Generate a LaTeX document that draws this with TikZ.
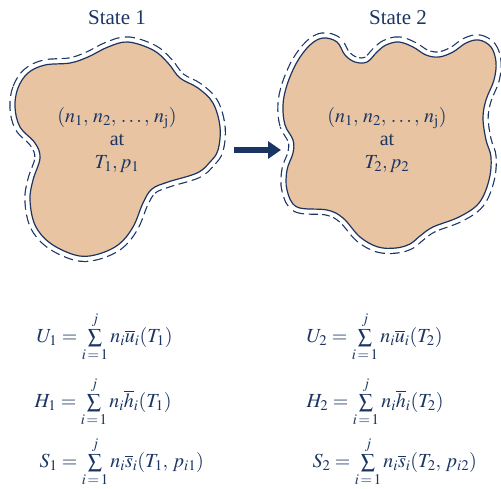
\documentclass[tikz,border=0pt]{standalone}
\usepackage{mathptmx}
\usepackage[no-math]{fontspec}
\setmainfont{Liberation Serif}
\usetikzlibrary{arrows.meta}
\definecolor{navy}{HTML}{1B3563}
\definecolor{blobfill}{HTML}{E8C4A2}
\tikzset{
  dashring/.style={line width=11.4pt, dash pattern=on 9pt off 4.5pt, navy},
  whitering/.style={line width=9pt, white},
  blobbody/.style={fill=blobfill, draw=navy, line width=1.2pt},
  ttl/.style={text=navy, font=\fontsize{21}{24}\selectfont, align=center},
  lbl/.style={text=navy, font=\fontsize{20}{23}\selectfont, align=center},
  eq/.style={text=navy, font=\fontsize{20}{23}\selectfont, anchor=west},
}
\def\blobA{(15,107) (18,88) (28,73) (45,65) (70,63) (88,57) (108,47) (128,42) (153,50) (168,63) (180,78) (198,88) (213,103) (220,127) (218,150) (210,162) (197,173) (168,182) (152,189) (143,203) (133,227) (118,245) (95,255) (75,255) (50,243) (35,225) (30,200) (33,180) (40,158) (35,143) (20,127)}
\def\blobB{(293,140) (285,125) (283,105) (287,85) (297,62) (310,45) (323,38) (337,42) (345,55) (355,62) (367,62) (377,52) (386,45) (399,42) (413,47) (426,55) (439,57) (453,52) (466,43) (479,40) (491,47) (496,62) (494,80) (486,100) (483,118) (486,140) (491,157) (489,180) (479,203) (459,217) (433,227) (420,236) (410,244) (396,248) (378,247) (360,237) (343,218) (327,210) (297,207) (287,190) (287,170) (293,153)}
\begin{document}
\begin{tikzpicture}[x=1pt,y=-1pt]
\useasboundingbox (0,0) rectangle (501,488);
% blob 1
\draw[dashring] plot[smooth cycle, tension=0.6] coordinates {\blobA};
\draw[whitering] plot[smooth cycle, tension=0.6] coordinates {\blobA};
\draw[blobbody] plot[smooth cycle, tension=0.6] coordinates {\blobA};
% blob 2
\draw[dashring] plot[smooth cycle, tension=0.6] coordinates {\blobB};
\draw[whitering] plot[smooth cycle, tension=0.6] coordinates {\blobB};
\draw[blobbody] plot[smooth cycle, tension=0.6] coordinates {\blobB};
% titles
\node[ttl] (t1) at (117,18) {State 1};
\node[ttl] (t2) at (398,18) {State 2};
% inner texts
\node[lbl] (s1) at (117,140) {$(n_1,\, n_2,\, \ldots,\, n_{\mathrm{j}})$\\at\\$T_1, p_1$};
\node[lbl] (s2) at (387,140) {$(n_1,\, n_2,\, \ldots,\, n_{\mathrm{j}})$\\at\\$T_2, p_2$};
% arrow
\coordinate (a1) at (234,150);
\coordinate (a2) at (281,150);
\draw[navy, line width=6pt, -{Triangle[length=13pt,width=17pt]}] (a1) -- (a2);
% equations
\node[eq] (u1) at (33,337) {$U_1 = \sum\limits_{i\,=\,1}^{j} n_i\overline{u}_i(T_1)$};
\node[eq] (h1) at (31,402) {$H_1 = \sum\limits_{i\,=\,1}^{j} n_i\overline{h}_i(T_1)$};
\node[eq] (s1e) at (36,462) {$S_1 = \sum\limits_{i\,=\,1}^{j} n_i\overline{s}_i(T_1,\, p_{i1})$};
\node[eq] (u2) at (303,337) {$U_2 = \sum\limits_{i\,=\,1}^{j} n_i\overline{u}_i(T_2)$};
\node[eq] (h2) at (303,402) {$H_2 = \sum\limits_{i\,=\,1}^{j} n_i\overline{h}_i(T_2)$};
\node[eq] (s2e) at (309,462) {$S_2 = \sum\limits_{i\,=\,1}^{j} n_i\overline{s}_i(T_2,\, p_{i2})$};
\end{tikzpicture}
\end{document}
